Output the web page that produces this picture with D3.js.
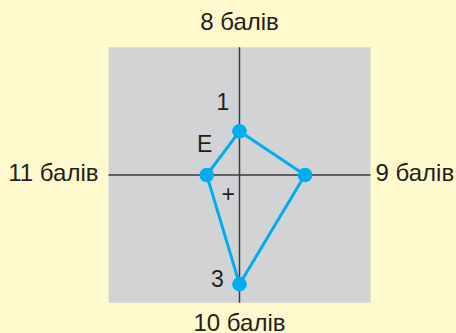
<!DOCTYPE html>
<html>
<head>
<meta charset="utf-8">
<script src="https://cdn.jsdelivr.net/npm/d3@7"></script>
<style>
  html, body { margin: 0; padding: 0; background: #fff9cd; }
  svg { display: block; }
  text { font-family: "Liberation Sans", Arial, sans-serif; fill: #231f20; }
</style>
</head>
<body>
<svg id="chart" width="456" height="333"></svg>
<script>
// Radar-style diagram: four score directions, number of answers per score
const categories = ["8 балів", "9 балів", "10 балів", "11 балів"];
const values = [4, 6, 10, 3];
// angle of each direction in degrees (0 = up, clockwise)
const angles = [0, 90, 180, 270];
// markers written inside the field, each attached to one point
const markers = [
  { text: "1", point: 0, dx: -16.5, dy: -29 },
  { text: "E", point: 3, dx: -2, dy: -31 },
  { text: "+", point: 3, dx: 21.5, dy: 18.5 },
  { text: "3", point: 2, dx: -22, dy: -5 }
];

const cx = 239.5, cy = 175;
const maxValue = 12;

const svg = d3.select("#chart");

const r = d3.scaleLinear().domain([0, maxValue]).range([0, 131]);

// grey plotting field
const halfW = r(12), halfH = r(11.7);
svg.append("rect")
  .attr("x", cx - halfW).attr("y", cy - halfH)
  .attr("width", halfW * 2).attr("height", halfH * 2)
  .attr("fill", "#d2d3d5");

// axes
svg.append("line")
  .attr("x1", cx - halfW).attr("x2", cx + halfW)
  .attr("y1", cy).attr("y2", cy)
  .attr("stroke", "#3a3a3a").attr("stroke-width", 1.5);
svg.append("line")
  .attr("x1", cx).attr("x2", cx)
  .attr("y1", cy - halfH).attr("y2", cy + halfH)
  .attr("stroke", "#3a3a3a").attr("stroke-width", 1.5);

// data points
const pts = values.map((v, i) => {
  const a = angles[i] * Math.PI / 180;
  return [cx + Math.sin(a) * r(v), cy - Math.cos(a) * r(v)];
});

svg.append("path")
  .attr("d", d3.line().curve(d3.curveLinearClosed)(pts))
  .attr("fill", "none")
  .attr("stroke", "#00aeef")
  .attr("stroke-width", 3)
  .attr("stroke-linejoin", "round");

svg.selectAll("circle.pt").data(pts).join("circle")
  .attr("class", "pt")
  .attr("cx", d => d[0]).attr("cy", d => d[1])
  .attr("r", 7.3)
  .attr("fill", "#00aeef");

// markers near points
svg.selectAll("text.mk").data(markers).join("text")
  .attr("class", "mk")
  .attr("x", d => pts[d.point][0] + d.dx)
  .attr("y", d => pts[d.point][1] + d.dy)
  .attr("text-anchor", "middle")
  .attr("dominant-baseline", "central")
  .attr("font-size", 23)
  .text(d => d.text);

// category labels at the ends of the axes
const labelPos = [
  { x: cx, y: 30, anchor: "middle" },
  { x: cx + halfW + 5, y: 180.5, anchor: "start" },
  { x: cx, y: 330.5, anchor: "middle" },
  { x: cx - halfW - 10, y: 180.5, anchor: "end" }
];
svg.selectAll("text.cat").data(categories).join("text")
  .attr("class", "cat")
  .attr("x", (d, i) => labelPos[i].x)
  .attr("y", (d, i) => labelPos[i].y)
  .attr("text-anchor", (d, i) => labelPos[i].anchor)
  .attr("font-size", 24)
  .text(d => d);
</script>
</body>
</html>
